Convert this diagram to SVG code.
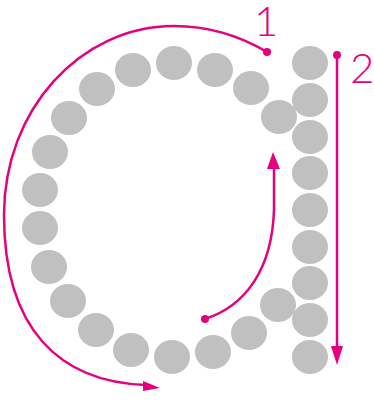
<svg xmlns="http://www.w3.org/2000/svg" width="374" height="401" viewBox="0 0 374 401">
<style>
.d{fill:#c0c0c0}
.s{fill:none;stroke:#e6007e;stroke-width:2.5}
.p{fill:#e6007e}
.t{font-family:Lato,"Open Sans",sans-serif;font-weight:300;font-size:42px;fill:#e6007e}
</style>
<g id="dots">
<ellipse class="d" cx="310" cy="63" rx="18" ry="17"/>
<ellipse class="d" cx="310" cy="100" rx="18" ry="17"/>
<ellipse class="d" cx="310" cy="137" rx="18" ry="17"/>
<ellipse class="d" cx="310" cy="173" rx="18" ry="17"/>
<ellipse class="d" cx="310" cy="210" rx="18" ry="17"/>
<ellipse class="d" cx="310" cy="247" rx="18" ry="17"/>
<ellipse class="d" cx="310" cy="283" rx="18" ry="17"/>
<ellipse class="d" cx="310" cy="320" rx="18" ry="17"/>
<ellipse class="d" cx="310" cy="357" rx="18" ry="17"/>
<ellipse class="d" cx="279" cy="117" rx="18" ry="17"/>
<ellipse class="d" cx="251" cy="88" rx="18" ry="17"/>
<ellipse class="d" cx="215" cy="70" rx="18" ry="17"/>
<ellipse class="d" cx="174" cy="63" rx="18" ry="17"/>
<ellipse class="d" cx="133" cy="70" rx="18" ry="17"/>
<ellipse class="d" cx="97" cy="89" rx="18" ry="17"/>
<ellipse class="d" cx="69" cy="118" rx="18" ry="17"/>
<ellipse class="d" cx="50" cy="152" rx="18" ry="17"/>
<ellipse class="d" cx="40" cy="190" rx="18" ry="17"/>
<ellipse class="d" cx="40" cy="228" rx="18" ry="17"/>
<ellipse class="d" cx="49" cy="267" rx="18" ry="17"/>
<ellipse class="d" cx="68" cy="301" rx="18" ry="17"/>
<ellipse class="d" cx="96" cy="330" rx="18" ry="17"/>
<ellipse class="d" cx="131" cy="350" rx="18" ry="17"/>
<ellipse class="d" cx="172" cy="357" rx="18" ry="17"/>
<ellipse class="d" cx="213" cy="352" rx="18" ry="17"/>
<ellipse class="d" cx="249" cy="333" rx="18" ry="17"/>
<ellipse class="d" cx="278" cy="305" rx="18" ry="17"/>
</g>
<g id="connectors">
<g id="stroke1">
<path class="s" d="M267,52 C240,36 208,26 174,26 C80,26 4,110 4,215 C4,330 60,382 146,385"/>
<circle class="p" cx="267" cy="52" r="4"/>
<path class="p" d="M160,388 L143,381 L143,391 Z"/>
</g>
<g id="stroke2">
<path class="s" d="M337,55 V350"/>
<circle class="p" cx="337" cy="55" r="4"/>
<path class="p" d="M337,365 L331,346 L343,346 Z"/>
</g>
<g id="stroke3">
<path class="s" d="M205,319 C245,306 272,270 274,210 L274,166"/>
<circle class="p" cx="205" cy="319" r="4"/>
<path class="p" d="M273,152 L267,169 L280,169 Z"/>
</g>
</g>
<text class="t" x="254" y="36">1</text>
<text class="t" x="350" y="83">2</text>
</svg>
